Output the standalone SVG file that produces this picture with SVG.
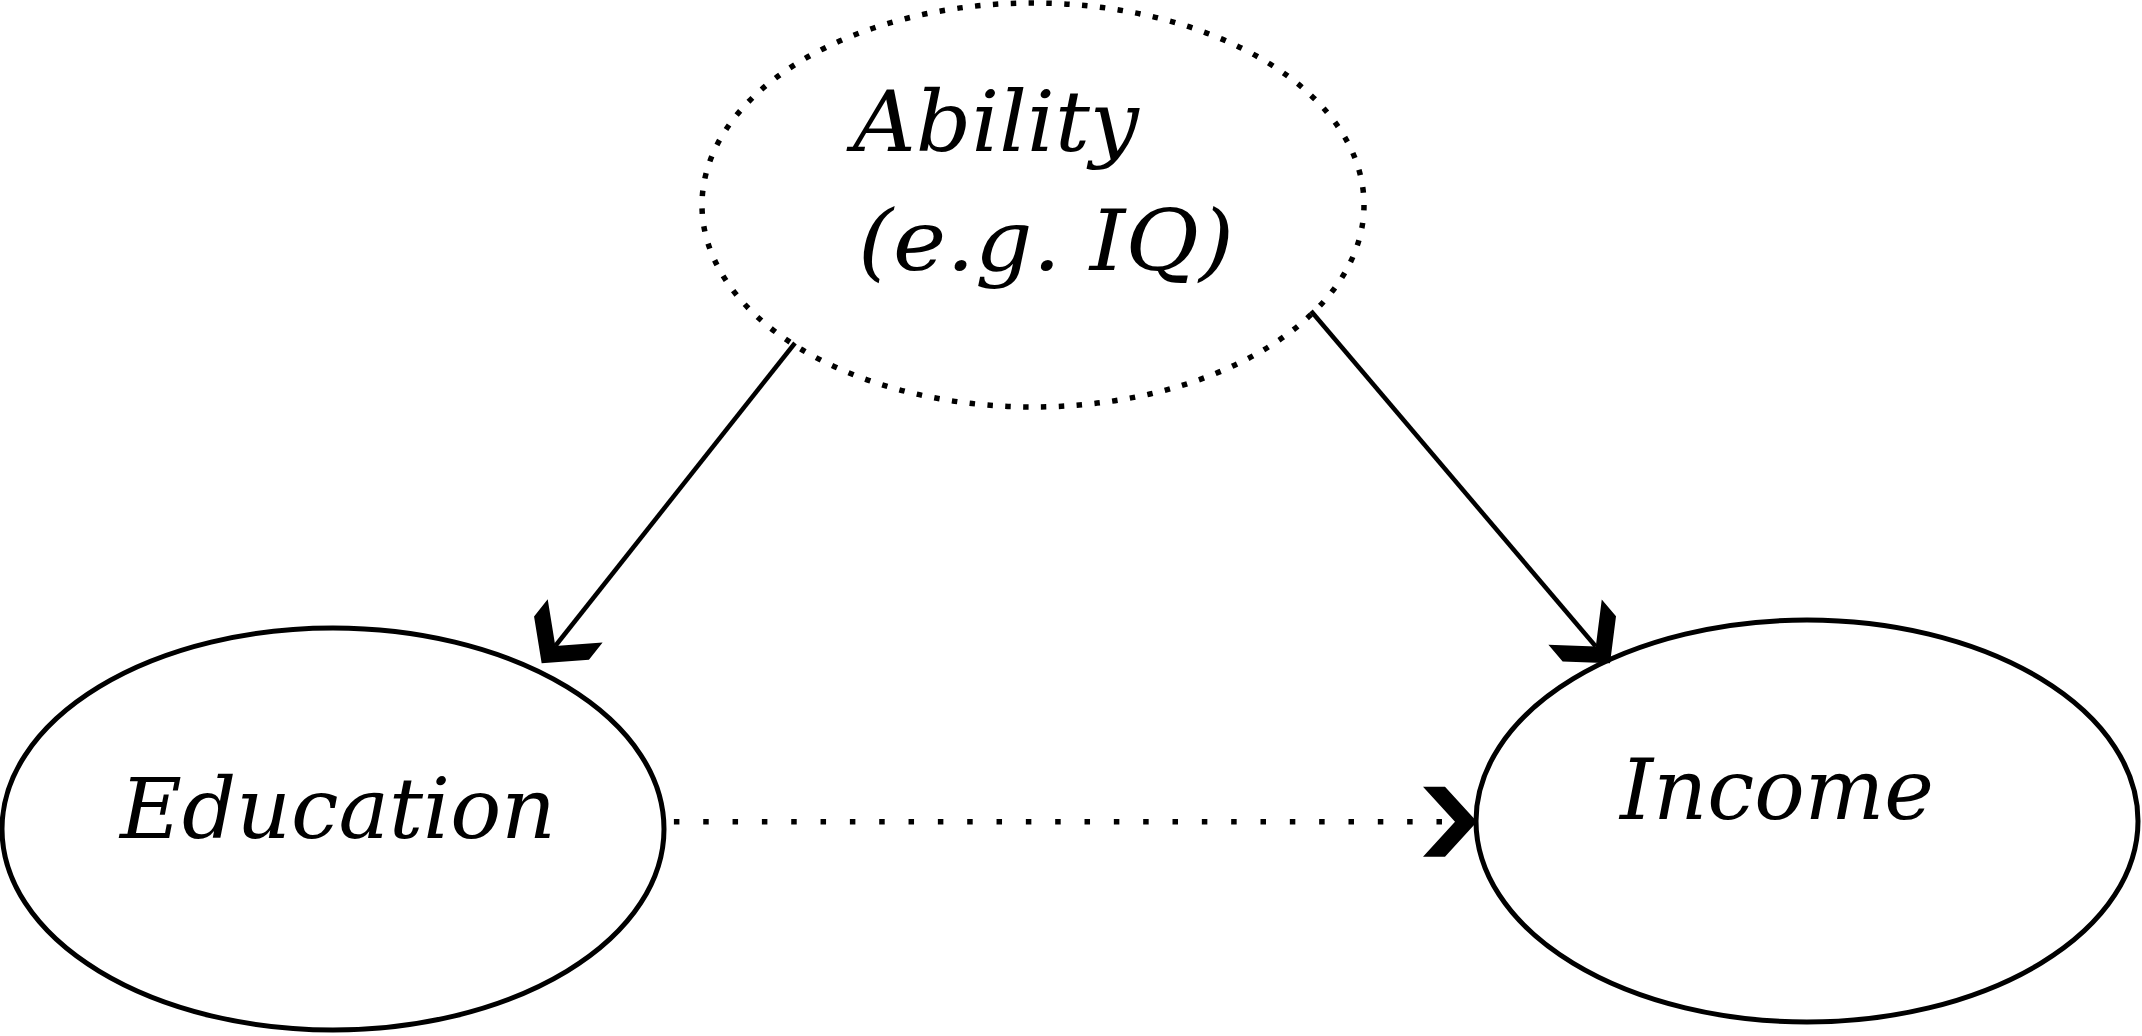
<svg xmlns="http://www.w3.org/2000/svg" width="2142" height="1036" viewBox="0 0 2142 1036">
  <style>
    .node { fill: #ffffff; stroke: #000000; stroke-width: 5; }
    .latent { fill: none; stroke: #000000; stroke-width: 5.5; stroke-dasharray: 5.5 12.5; }
    .label { font-family: "DejaVu Serif", "Liberation Serif", serif; font-style: italic; font-size: 84px; fill: #000000; }
    .edge { fill: none; stroke: #000000; stroke-width: 4.5; }
    .dotted { fill: none; stroke: #000000; stroke-width: 5.5; stroke-dasharray: 5.5 23.83; }
  </style>
  <defs>
    <marker id="barb" markerUnits="userSpaceOnUse" orient="auto" refX="-22" refY="0" markerWidth="1" markerHeight="1" overflow="visible">
      <path d="M0,0 L-32,-35 L-54,-35 L-22,0 L-54,35 L-32,35 Z" fill="#000000" stroke="none"/>
    </marker>
  </defs>
  <rect x="0" y="0" width="2142" height="1036" fill="#ffffff"/>

  <g id="node-ability">
    <ellipse class="latent" cx="1033" cy="205" rx="331" ry="202" pathLength="1710"/>
    <text class="label" x="853" y="151" textLength="286" lengthAdjust="spacingAndGlyphs">Ability</text>
    <text class="label" x="858" y="270" textLength="376" lengthAdjust="spacingAndGlyphs">(e.g. IQ)</text>
  </g>

  <g id="node-education">
    <ellipse class="node" cx="333" cy="829" rx="331" ry="201"/>
    <text class="label" x="120" y="838" textLength="436" lengthAdjust="spacingAndGlyphs">Education</text>
  </g>

  <g id="node-income">
    <ellipse class="node" cx="1807" cy="821" rx="331" ry="201"/>
    <text class="label" x="1620" y="819" textLength="314" lengthAdjust="spacingAndGlyphs">Income</text>
  </g>

  <g id="connectors">
    <path class="edge" d="M795,343 L555.3,646" marker-end="url(#barb)"/>
    <path class="edge" d="M1311,311 L1595.8,646.5" marker-end="url(#barb)"/>
    <path class="dotted" d="M673.9,821.7 L1455,821.7" marker-end="url(#barb)"/>
  </g>
</svg>
